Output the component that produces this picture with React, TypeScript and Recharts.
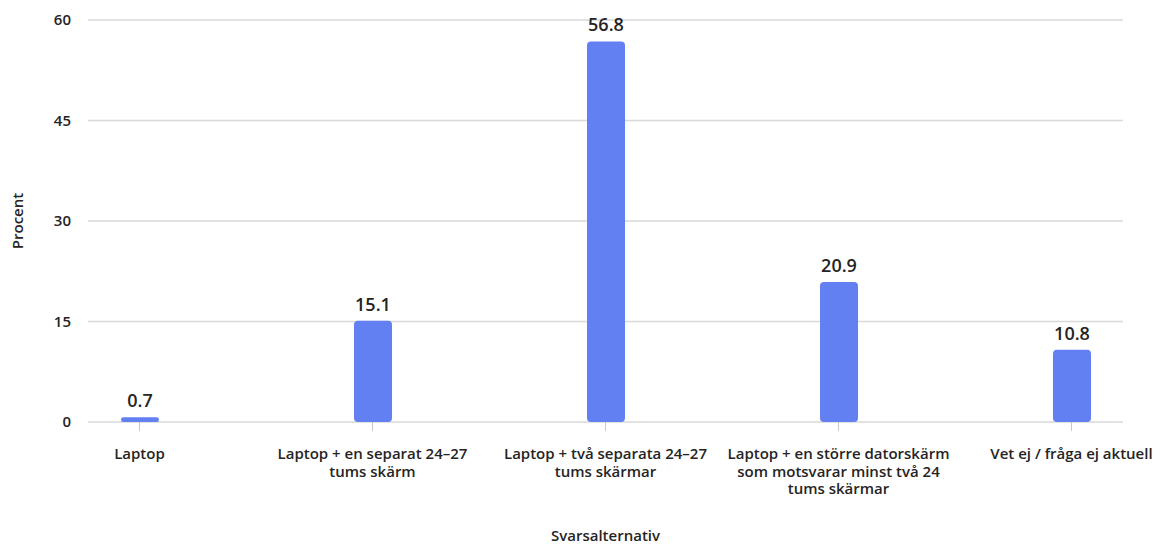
import React from "react"
import { BarChart, Bar, XAxis, YAxis, CartesianGrid, LabelList } from "recharts"

const categories = [
  "Laptop",
  "Laptop + en separat 24–27\ntums skärm",
  "Laptop + två separata 24–27\ntums skärmar",
  "Laptop + en större datorskärm\nsom motsvarar minst två 24\ntums skärmar",
  "Vet ej / fråga ej aktuell",
]
const values = [0.7, 15.1, 56.8, 20.9, 10.8]
const yTicks = [0, 15, 30, 45, 60]

const data = categories.map((name, i) => ({ idx: i, name, value: values[i] }))

const FONT = "'Open Sans', 'Noto Sans', sans-serif"
const TEXT = "#252423"

function CategoryTick(props: any) {
  const { x, y, payload } = props
  const label = categories[payload.value] ?? ""
  const lines = label.split("\n")
  return (
    <text
      x={x}
      y={y}
      textAnchor="middle"
      fill={TEXT}
      fontSize={15}
      fontWeight={600}
      fontFamily={FONT}
    >
      {lines.map((line, i) => (
        <tspan key={i} x={x} dy={i === 0 ? 16 : 17.5}>
          {line}
        </tspan>
      ))}
    </text>
  )
}

function YLabel(props: any) {
  const { viewBox } = props
  const cx = 17
  const cy = viewBox.y + viewBox.height / 2
  return (
    <text
      x={cx}
      y={cy}
      transform={`rotate(-90, ${cx}, ${cy})`}
      textAnchor="middle"
      dominantBaseline="central"
      fill={TEXT}
      fontSize={15}
      fontWeight={600}
      fontFamily={FONT}
    >
      Procent
    </text>
  )
}

export default function App() {
  return (
    <div style={{ position: "fixed", left: 0, top: 0, background: "#fff" }}>
      <BarChart
        width={1161}
        height={544}
        data={data}
        margin={{ top: 20, right: 38, left: 0, bottom: 0 }}
      >
        <CartesianGrid vertical={false} stroke="#d9d9d9" strokeWidth={1.5} />
        <XAxis
          dataKey="idx"
          type="number"
          domain={[-0.221, 4.221]}
          ticks={[0, 1, 2, 3, 4]}
          interval={0}
          height={122}
          axisLine={false}
          tickLine={{ stroke: "#c8c8c8" }}
          tickSize={9}
          tickMargin={12}
          tick={<CategoryTick />}
          label={{
            value: "Svarsalternativ",
            position: "insideBottom",
            offset: 3,
            fill: TEXT,
            fontSize: 15,
            fontWeight: 600,
            fontFamily: FONT,
          }}
        />
        <YAxis
          width={88}
          domain={[0, 60]}
          ticks={yTicks}
          axisLine={false}
          tickLine={false}
          tickSize={0}
          tickMargin={17}
          tick={{ fill: TEXT, fontSize: 15, fontWeight: 600, fontFamily: FONT }}
          label={<YLabel />}
        />
        <Bar
          dataKey="value"
          fill="#6380f2"
          barSize={38}
          radius={4}
          isAnimationActive={false}
        >
          <LabelList
            dataKey="value"
            position="top"
            offset={10}
            fill={TEXT}
            fontSize={18}
            fontWeight={600}
            fontFamily={FONT}
          />
        </Bar>
      </BarChart>
    </div>
  )
}
